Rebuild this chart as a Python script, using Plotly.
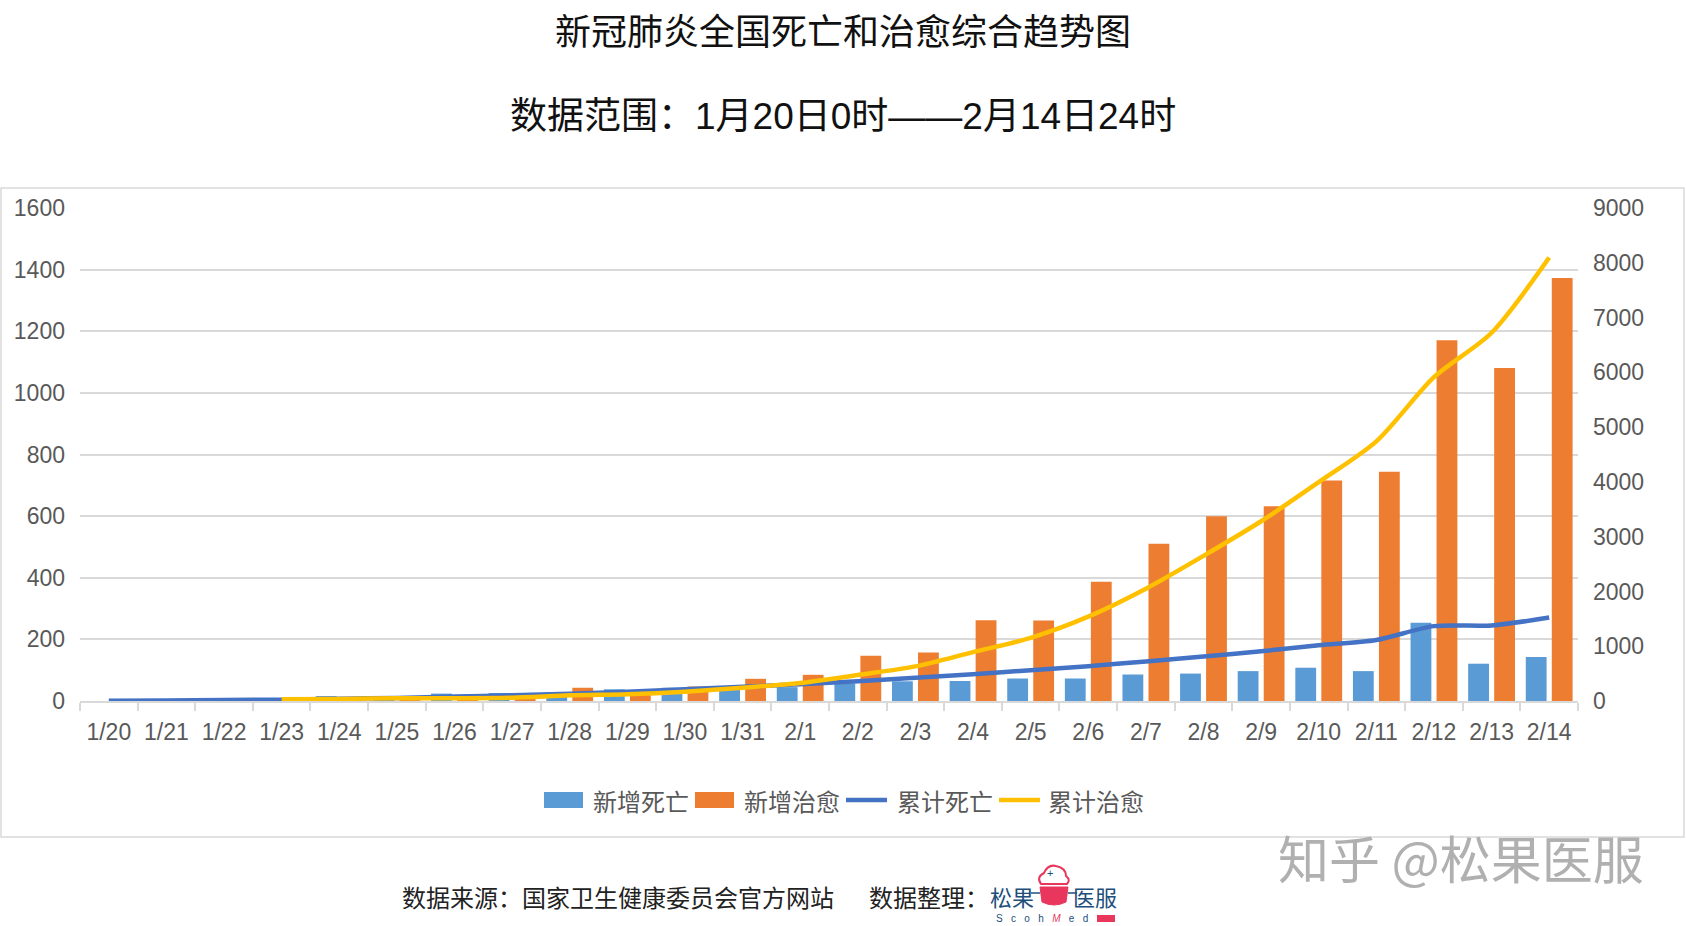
import plotly.graph_objects as go

# ---------------- data ----------------
dates = ["1/20", "1/21", "1/22", "1/23", "1/24", "1/25", "1/26", "1/27", "1/28", "1/29",
         "1/30", "1/31", "2/1", "2/2", "2/3", "2/4", "2/5", "2/6", "2/7", "2/8",
         "2/9", "2/10", "2/11", "2/12", "2/13", "2/14"]
new_deaths = [None, 3, 8, 8, 16, 15, 24, 26, 26, 38,
              43, 46, 45, 57, 64, 65, 73, 73, 86, 89,
              97, 108, 97, 254, 121, 143]
new_cured = [None, None, None, 6, 4, 11, 2, 9, 43, 21,
             47, 72, 85, 147, 157, 262, 261, 387, 510, 600,
             632, 716, 744, 1171, 1081, 1373]
cum_deaths = [6, 9, 17, 25, 41, 56, 80, 106, 132, 170,
              213, 259, 304, 361, 425, 490, 563, 636, 722, 811,
              908, 1016, 1113, 1367, 1380, 1523]
cum_cured = [None, None, None, 34, 38, 49, 51, 60, 103, 124,
             171, 243, 328, 475, 632, 892, 1153, 1540, 2050, 2649,
             3281, 3996, 4740, 5911, 6723, 8096]
left_ticks = [0, 200, 400, 600, 800, 1000, 1200, 1400, 1600]
right_ticks = [0, 1000, 2000, 3000, 4000, 5000, 6000, 7000, 8000, 9000]
series_names = ["新增死亡", "新增治愈", "累计死亡", "累计治愈"]
series_colors = ["#5B9BD5", "#ED7D31", "#4472C4", "#FFC000"]

title1 = "新冠肺炎全国死亡和治愈综合趋势图"
title2 = "数据范围：1月20日0时——2月14日24时"
source = "数据来源：国家卫生健康委员会官方网站"
org = "数据整理："
watermark = "知乎 @松果医服"

# ---------------- layout geometry ----------------
W, H = 1686, 926
L, R, T, B = 80, 1578, 208, 701


def px(x):
    return (x - L) / (R - L)


def py(y):
    return (B - y) / (B - T)


FONT = "Liberation Sans, Arial, Noto Sans CJK SC, sans-serif"
CJK = "Noto Sans CJK SC, Liberation Sans, sans-serif"
GRID = "#D9D9D9"
TXT = "#595959"

fig = go.Figure()
fig.add_trace(go.Bar(x=dates, y=new_deaths, name=series_names[0], marker_color=series_colors[0],
                     marker_line_width=0, showlegend=False))
fig.add_trace(go.Bar(x=dates, y=new_cured, name=series_names[1], marker_color=series_colors[1],
                     marker_line_width=0, showlegend=False))
fig.add_trace(go.Scatter(x=dates, y=cum_deaths, name=series_names[2], mode="lines", yaxis="y2",
                         showlegend=False,
                         line=dict(color=series_colors[2], width=4.5, shape="spline", smoothing=0.8)))
fig.add_trace(go.Scatter(x=dates, y=cum_cured, name=series_names[3], mode="lines", yaxis="y2",
                         showlegend=False,
                         line=dict(color=series_colors[3], width=4.5, shape="spline", smoothing=0.8)))

shapes = [
    # outer chart frame
    dict(type="rect", xref="paper", yref="paper", x0=px(1), x1=px(1684), y0=py(837), y1=py(188),
         line=dict(color=GRID, width=1.5), fillcolor="rgba(0,0,0,0)", layer="below"),
]

annotations = []

# legend (drawn to match the wide Excel-style keys)
leg_y = 800
leg_items = [(544, 583, 591, "bar"), (695, 734, 742, "bar"), (846, 887, 895, "line"), (999, 1040, 1046, "line")]
for (k0, k1, tx, kind), name, col in zip(leg_items, series_names, series_colors):
    if kind == "bar":
        shapes.append(dict(type="rect", xref="paper", yref="paper", x0=px(k0), x1=px(k1),
                           y0=py(leg_y + 8), y1=py(leg_y - 8), fillcolor=col, line=dict(width=0)))
    else:
        shapes.append(dict(type="line", xref="paper", yref="paper", x0=px(k0), x1=px(k1),
                           y0=py(leg_y), y1=py(leg_y), line=dict(color=col, width=4.5)))
    annotations.append(dict(text=name, x=px(tx), y=py(leg_y), xref="paper", yref="paper",
                            showarrow=False, xanchor="left", yanchor="middle",
                            font=dict(family=CJK, size=24, color=TXT)))

# logo pot icon (red)
red = "#E8365D"
shapes += [
    dict(type="path", xref="paper", yref="paper",
         path=f"M {px(1040)},{py(887)} L {px(1068)},{py(887)} L {px(1066)},{py(902)} "
              f"Q {px(1054)},{py(908)} {px(1042)},{py(902)} Z",
         fillcolor=red, line=dict(color=red, width=1)),
    dict(type="path", xref="paper", yref="paper",
         path=f"M {px(1041)},{py(884)} Q {px(1036)},{py(877)} {px(1044)},{py(873)} "
              f"Q {px(1048)},{py(864)} {px(1056)},{py(866)} Q {px(1066)},{py(868)} {px(1066)},{py(876)} "
              f"Q {px(1071)},{py(880)} {px(1067)},{py(884)} Z",
         fillcolor="white", line=dict(color=red, width=2)),
    dict(type="line", xref="paper", yref="paper", x0=px(1031), x1=px(1040), y0=py(893), y1=py(893),
         line=dict(color="#1d4f7c", width=1.5)),
    dict(type="line", xref="paper", yref="paper", x0=px(1068), x1=px(1077), y0=py(893), y1=py(893),
         line=dict(color="#1d4f7c", width=1.5)),
    dict(type="rect", xref="paper", yref="paper", x0=px(1097), x1=px(1115), y0=py(922), y1=py(915),
         fillcolor=red, line=dict(width=0)),
]

annotations += [
    dict(text=title1, x=px(843), y=py(29), xref="paper", yref="paper", showarrow=False,
         xanchor="center", yanchor="middle", font=dict(family=CJK, size=36, color="#111111")),
    dict(text=title2, x=px(843), y=py(117), xref="paper", yref="paper", showarrow=False,
         xanchor="center", yanchor="middle", font=dict(family=FONT, size=37, color="#111111")),
    dict(text=source, x=px(400), y=py(896), xref="paper", yref="paper", showarrow=False,
         xanchor="left", yanchor="middle", font=dict(family=CJK, size=24, color="#222222")),
    dict(text=org, x=px(867), y=py(896), xref="paper", yref="paper", showarrow=False,
         xanchor="left", yanchor="middle", font=dict(family=CJK, size=24, color="#222222")),
    dict(text="松果", x=px(1012), y=py(896), xref="paper", yref="paper", showarrow=False,
         xanchor="center", yanchor="middle", font=dict(family=CJK, size=22, color="#1d4f7c")),
    dict(text="医服", x=px(1095), y=py(896), xref="paper", yref="paper", showarrow=False,
         xanchor="center", yanchor="middle", font=dict(family=CJK, size=22, color="#1d4f7c")),
    dict(text="+", x=px(1050), y=py(873), xref="paper", yref="paper", showarrow=False,
         xanchor="center", yanchor="middle", font=dict(family=FONT, size=11, color="#1d4f7c")),
    dict(text="S   c   o   h   <span style='color:#E8365D'><i>M</i></span>   e   d", x=px(1042), y=py(918),
         xref="paper", yref="paper", showarrow=False, xanchor="center", yanchor="middle",
         font=dict(family=FONT, size=10, color="#1d4f7c")),
    dict(text=watermark, x=px(1461), y=py(857), xref="paper", yref="paper", showarrow=False,
         xanchor="center", yanchor="middle", font=dict(family=CJK, size=51, color="#B0B0B0")),
]

fig.update_layout(
    width=W, height=H,
    margin=dict(l=L, r=W - R, t=T, b=H - B, pad=0),
    paper_bgcolor="white", plot_bgcolor="white",
    barmode="group", bargap=0.097, bargroupgap=0.2,
    font=dict(family=FONT, color=TXT),
    showlegend=False,
    xaxis=dict(type="category", categoryorder="array", categoryarray=dates,
               showline=True, linecolor=GRID, linewidth=1.5,
               ticks="outside", tickson="boundaries", ticklen=8, tickcolor=GRID, tickwidth=1.5,
               tickfont=dict(family=FONT, size=23, color=TXT), ticklabelstandoff=10,
               showgrid=False, zeroline=False),
    yaxis=dict(range=[0, 1600], tickvals=left_ticks, showgrid=True, gridcolor=GRID, gridwidth=1.5,
               zeroline=False, showline=False, ticks="",
               tickfont=dict(family=FONT, size=23, color=TXT), ticklabelstandoff=14),
    yaxis2=dict(range=[0, 9000], tickvals=right_ticks, overlaying="y", side="right",
                showgrid=False, zeroline=False, showline=False, ticks="",
                tickfont=dict(family=FONT, size=23, color=TXT), ticklabelstandoff=14),
    shapes=shapes,
    annotations=annotations,
)

fig.write_html("out.html", config={"displayModeBar": False},
               post_script="document.body.style.margin='0';document.body.style.overflow='hidden';")
